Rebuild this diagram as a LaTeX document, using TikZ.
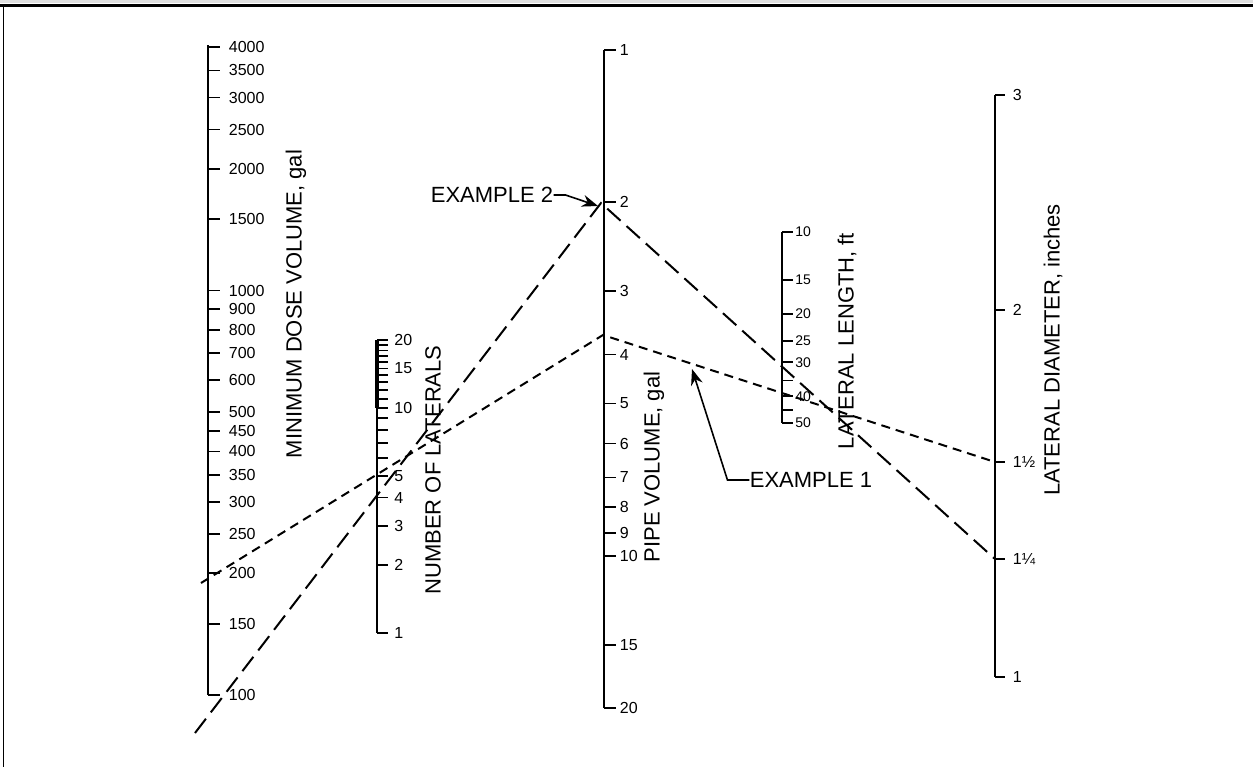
\documentclass[tikz,border=0pt]{standalone}
\usepackage{fontspec}
\setmainfont{Liberation Sans}
\usetikzlibrary{arrows.meta}

\tikzset{
  scaleline/.style={line width=1pt},
  scaletick/.style={line width=0.9pt},
  ticklabel/.style={anchor=west, inner sep=0pt, font=\fontsize{8}{9}\selectfont},
  axislabel/.style={rotate=90, inner sep=0pt, font=\fontsize{11}{13}\selectfont},
  examplelabel/.style={inner sep=0pt, font=\fontsize{11}{13}\selectfont},
  exonedash/.style={line width=1pt, dash pattern=on 4.5pt off 3pt},
  extwodash/.style={line width=1pt, dash pattern=on 9pt off 4pt},
  callout/.style={line width=0.8pt, -{Stealth[length=8pt,width=6pt]}},
}

\begin{document}
\begin{tikzpicture}[x=0.5pt,y=-0.5pt]
\useasboundingbox (0,0) rectangle (1253,767);

% Frame
\fill[gray!25] (0,0) rectangle (1253,3);
\draw[line width=1.5pt] (0,5) -- (1253,5);
\draw[line width=0.8pt] (3.5,5) -- (3.5,767);

% Minimum dose volume scale (log)
\draw[scaleline] (208,45) -- (208,695);
\foreach \v in {100,150,200,250,300,350,400,450,500,600,700,800,900,1000,1500,2000,2500,3000,3500,4000}{
  \pgfmathsetmacro\yy{695-404.5*log10(\v/100)}
  \draw[scaletick] (208,\yy) -- (220,\yy) node[ticklabel,xshift=4pt] (dose\v) {\v};
}
\node[axislabel] (doselabel) at (296,304) {MINIMUM DOSE VOLUME, gal};

% Number of laterals scale (log)
\draw[scaleline] (377,340) -- (377,633);
\draw[line width=1.8pt] (377,340) -- (377,408);
\foreach \v in {1,...,20}{
  \pgfmathsetmacro\yy{633-225*log10(\v)}
  \draw[scaletick] (377,\yy) -- (388,\yy);
}
\foreach \v in {1,2,3,4,5,10,15,20}{
  \pgfmathsetmacro\yy{633-225*log10(\v)}
  \node[ticklabel,xshift=3pt] (lat\v) at (388,\yy) {\v};
}
\node[axislabel] (latlabel) at (433,470) {NUMBER OF LATERALS};

% Pipe volume scale (log)
\draw[scaleline] (604,50) -- (604,708);
\foreach \v in {1,2,3,4,5,6,7,8,9,10,15,20}{
  \pgfmathsetmacro\yy{50+505.8*log10(\v)}
  \draw[scaletick] (604,\yy) -- (616,\yy) node[ticklabel,xshift=1.5pt] (pipe\v) {\v};
}
\node[axislabel] (pipelabel) at (654,467) {PIPE VOLUME, gal};

% Lateral length scale (log)
\draw[scaleline] (782,232) -- (782,423);
\foreach \v in {10,15,20,25,30,35,40,45,50}{
  \pgfmathsetmacro\yy{232+273*log10(\v/10)}
  \draw[scaletick] (782,\yy) -- (793,\yy);
}
\foreach \v in {10,15,20,25,30,40,50}{
  \pgfmathsetmacro\yy{232+273*log10(\v/10)}
  \node[ticklabel,xshift=1pt,font=\fontsize{7}{8}\selectfont] (len\v) at (793,\yy) {\v};
}
\node[axislabel] (lenlabel) at (847,341) {LATERAL LENGTH, ft};

% Lateral diameter scale (log)
\draw[scaleline] (995,95) -- (995,677);
\foreach \v/\t [count=\i] in {3/3,2/2,1.5/1½,1.25/1¼,1/1}{
  \pgfmathsetmacro\yy{677-1220*log10(\v)}
  \draw[scaletick] (995,\yy) -- (1005,\yy) node[ticklabel,xshift=3.5pt] (dia\i) {\t};
}
\node[axislabel] (dialabel) at (1053,350) {LATERAL DIAMETER, inches};

% Example 1
\coordinate (exonestart) at (201,583);
\coordinate (exoneapex) at (603,335);
\coordinate (exoneend) at (995,462);
\draw[exonedash] (exonestart) -- (exoneapex) -- (exoneend);

% Example 2
\coordinate (extwostart) at (195,733);
\coordinate (extwoapex) at (601,203);
\coordinate (extwoend) at (995,559);
\draw[extwodash] (extwostart) -- (extwoapex) -- (extwoend);

% Callouts
\node[examplelabel] (extwolabel) at (492,195) {EXAMPLE 2};
\coordinate (extwotip) at (598,206);
\draw[callout] (extwolabel.east) -- ++(12,0) -- (extwotip);

\node[examplelabel] (exonelabel) at (811,480) {EXAMPLE 1};
\coordinate (exonetip) at (692,369);
\draw[callout] (exonelabel.west) -- ++(-22,0) -- (exonetip);
\end{tikzpicture}
\end{document}
